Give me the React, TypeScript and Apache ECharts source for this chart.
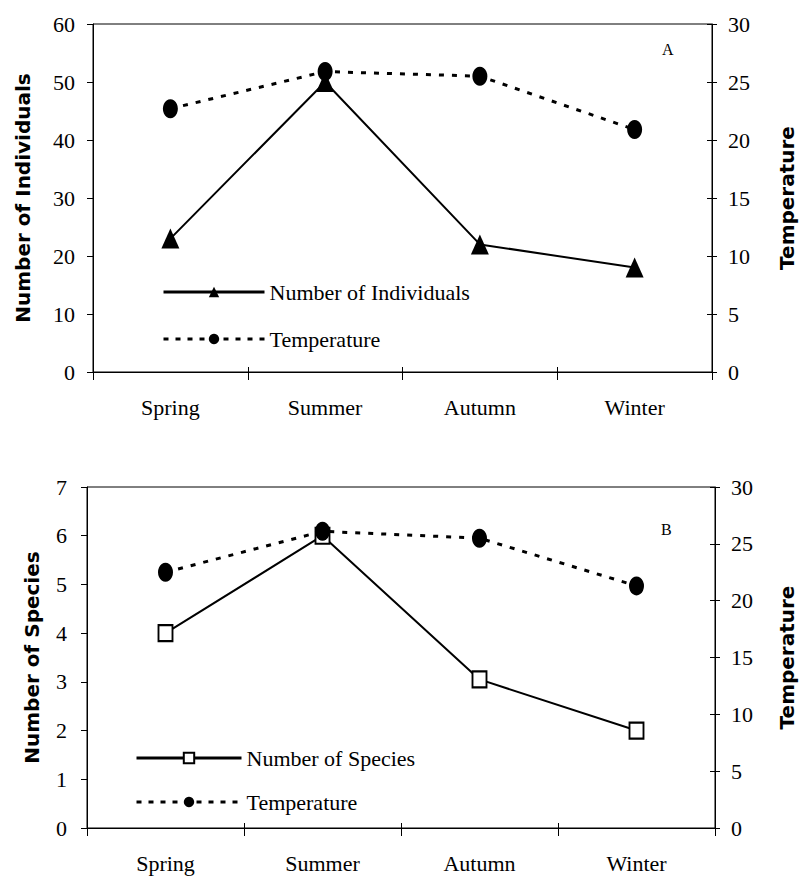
import React, { useEffect, useRef } from "react";
import * as echarts from "echarts";

const seasons = ["Spring", "Summer", "Autumn", "Winter"];
const individuals = [23, 50, 22, 18];
const temperatureA = [22.7, 25.9, 25.5, 20.9];
const species = [4, 6, 3.05, 2];
const temperatureB = [22.5, 26.1, 25.5, 21.3];

const SERIF = "'Liberation Serif', 'Times New Roman', serif";
const SANS_BOLD = "'DejaVu Sans', sans-serif";

export default function App() {
  const ref = useRef<HTMLDivElement>(null);
  useEffect(() => {
    document.body.style.margin = "0";
    if (!ref.current) return;
    const chart = echarts.init(ref.current, null, { renderer: "svg" });

    const labelStyle = { color: "#000", fontFamily: SERIF, fontSize: 22 };
    const nameStyle = { color: "#000", fontFamily: SANS_BOLD, fontWeight: "bold" as const, fontSize: 20 };
    const axisLine = { show: true, lineStyle: { color: "#000", width: 1 } };

    const xAxisFor = (gridIndex: number) => [
      {
        type: "category",
        gridIndex,
        data: seasons,
        boundaryGap: true,
        axisLine,
        axisTick: { show: true, inside: false, length: 8, lineStyle: { color: "#000" } },
        axisLabel: { ...labelStyle, margin: 24 },
      },
      {
        type: "category",
        gridIndex,
        data: seasons,
        boundaryGap: true,
        position: "bottom",
        axisLine: { show: false },
        axisTick: { show: true, inside: true, length: 5, lineStyle: { color: "#000" } },
        axisLabel: { show: false },
      },
    ];

    const tempSeries = (data: number[], xIdx: number, yIdx: number) => ({
      name: "Temperature",
      type: "line",
      data,
      xAxisIndex: xIdx,
      yAxisIndex: yIdx,
      symbol: "circle",
      symbolSize: [15, 19],
      itemStyle: { color: "#000" },
      lineStyle: { color: "#000", width: 3, type: [5, 8] },
      z: 4,
    });

    const legendText = { color: "#000", fontFamily: SERIF, fontSize: 22 };
    const solidLegendLine = { color: "#000", width: 3, type: "solid" };
    const dashLegendLine = { color: "#000", width: 3, type: [5, 7] };

    const option: any = {
      animation: false,
      backgroundColor: "#fff",
      grid: [
        { left: 93, top: 24, width: 634, height: 348, show: true, borderColor: "#000", borderWidth: 1 },
        { left: 87, top: 487, width: 635, height: 341, show: true, borderColor: "#000", borderWidth: 1 },
      ],
      xAxis: [...xAxisFor(0), ...xAxisFor(1)],
      yAxis: [
        {
          type: "value", gridIndex: 0, min: 0, max: 60, interval: 10, position: "left",
          axisLine, splitLine: { show: false },
          axisTick: { show: true, length: 6, lineStyle: { color: "#000" } },
          axisLabel: { ...labelStyle, margin: 18 },
          name: "Number of Individuals", nameLocation: "middle", nameRotate: 90, nameGap: 60,
          nameTextStyle: nameStyle,
        },
        {
          type: "value", gridIndex: 0, min: 0, max: 30, interval: 5, position: "right",
          axisLine, splitLine: { show: false },
          axisTick: { show: true, length: 5, lineStyle: { color: "#000" } },
          axisLabel: { ...labelStyle, margin: 16 },
          name: "Temperature", nameLocation: "middle", nameRotate: 90, nameGap: 65,
          nameTextStyle: nameStyle,
        },
        {
          type: "value", gridIndex: 0, min: 0, max: 30, interval: 5, position: "right",
          axisLine: { show: false }, splitLine: { show: false },
          axisTick: { show: true, inside: true, length: 5, lineStyle: { color: "#000" } },
          axisLabel: { show: false },
        },
        {
          type: "value", gridIndex: 1, min: 0, max: 7, interval: 1, position: "left",
          axisLine, splitLine: { show: false },
          axisTick: { show: true, length: 6, lineStyle: { color: "#000" } },
          axisLabel: { ...labelStyle, margin: 20 },
          name: "Number of Species", nameLocation: "middle", nameRotate: 90, nameGap: 45,
          nameTextStyle: nameStyle,
        },
        {
          type: "value", gridIndex: 1, min: 0, max: 30, interval: 5, position: "right",
          axisLine, splitLine: { show: false },
          axisTick: { show: true, length: 5, lineStyle: { color: "#000" } },
          axisLabel: { ...labelStyle, margin: 16 },
          name: "Temperature", nameLocation: "middle", nameRotate: 90, nameGap: 62,
          nameTextStyle: nameStyle,
        },
        {
          type: "value", gridIndex: 1, min: 0, max: 30, interval: 5, position: "right",
          axisLine: { show: false }, splitLine: { show: false },
          axisTick: { show: true, inside: true, length: 5, lineStyle: { color: "#000" } },
          axisLabel: { show: false },
        },
      ],
      legend: [
        {
          data: [
            { name: "Number of Individuals", lineStyle: solidLegendLine },
            { name: "Temperature", lineStyle: dashLegendLine },
          ],
          orient: "vertical", left: 157, top: 276, itemWidth: 101, itemHeight: 13, itemGap: 25,
          textStyle: legendText,
          selectedMode: false,
        },
        {
          data: [
            { name: "Number of Species", lineStyle: solidLegendLine },
            { name: "Temperature", lineStyle: dashLegendLine },
          ],
          orient: "vertical", left: 130, top: 742, itemWidth: 105, itemHeight: 13, itemGap: 22,
          textStyle: legendText,
          selectedMode: false,
        },
      ],
      graphic: [
        { type: "text", left: 662, top: 41, style: { text: "A", font: `16px ${SERIF}`, fill: "#000" } },
        { type: "text", left: 661, top: 521, style: { text: "B", font: `16px ${SERIF}`, fill: "#000" } },
      ],
      series: [
        {
          name: "Number of Individuals", type: "line", data: individuals,
          xAxisIndex: 0, yAxisIndex: 0,
          symbol: "triangle", symbolSize: [18, 20],
          itemStyle: { color: "#000" },
          lineStyle: { color: "#000", width: 2 },
          z: 3,
        },
        tempSeries(temperatureA, 0, 1),
        {
          name: "Number of Species", type: "line", data: species,
          xAxisIndex: 2, yAxisIndex: 3,
          symbol: "rect", symbolSize: [14, 16],
          itemStyle: { color: "#fff", borderColor: "#000", borderWidth: 2 },
          lineStyle: { color: "#000", width: 2 },
          z: 3,
        },
        tempSeries(temperatureB, 2, 4),
      ],
    };
    chart.setOption(option);
    return () => chart.dispose();
  }, []);
  return <div ref={ref} style={{ width: 805, height: 878 }} />;
}
